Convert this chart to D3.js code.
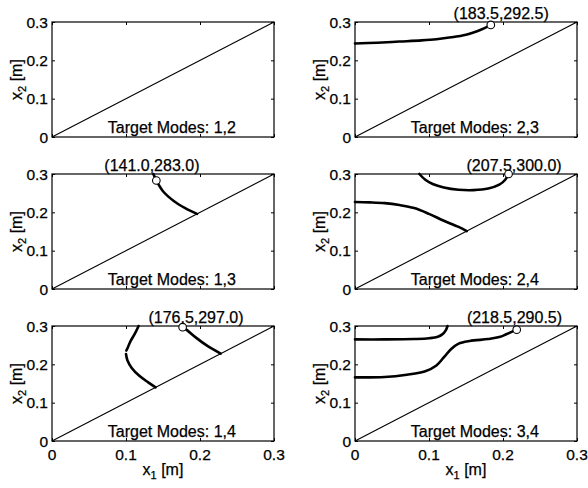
<!DOCTYPE html>
<html lang="en">
<head>
    <meta charset="UTF-8">
    <title>Target Modes</title>
    <script src="https://d3js.org/d3.v7.min.js"></script>
    <style>
        body {
            margin: 0;
            background: #fff;
            font-family: "Liberation Sans", Arial, Helvetica, sans-serif;
        }
        text {
            fill: #000;
            stroke: #000;
            stroke-width: 0.25px;
        }
    </style>
</head>
<body>
    <div id="chart"></div>

    <script>
        // Panel titles (row by row, left to right)
        const titles = ["Target Modes: 1,2", "Target Modes: 2,3", "Target Modes: 1,3",
                        "Target Modes: 2,4", "Target Modes: 1,4", "Target Modes: 3,4"];

        // Axis ticks (metres)
        const ticks = [0, 0.1, 0.2, 0.3];
        const tickLabels = ["0", "0.1", "0.2", "0.3"];

        // Curves per panel, [x1, x2] in metres
        const curves12 = [];
        const curves23 = [
            [[0, 0.244], [0.03, 0.246], [0.06, 0.249], [0.09, 0.252], [0.11, 0.255], [0.13, 0.26],
             [0.15, 0.267], [0.165, 0.276], [0.175, 0.284], [0.1835, 0.2925]]
        ];
        const curves13 = [
            [[0.137, 0.3], [0.141, 0.283], [0.15, 0.255], [0.165, 0.229], [0.18, 0.211], [0.196, 0.196]]
        ];
        const curves24 = [
            [[0.087, 0.3], [0.095, 0.285], [0.105, 0.274], [0.12, 0.265], [0.14, 0.259], [0.16, 0.258],
             [0.18, 0.262], [0.195, 0.272], [0.203, 0.285], [0.2075, 0.3]],
            [[0, 0.227], [0.02, 0.226], [0.04, 0.224], [0.06, 0.219], [0.08, 0.211], [0.1, 0.196],
             [0.12, 0.178], [0.14, 0.162], [0.151, 0.151]]
        ];
        const curves14 = [
            [[0.117, 0.3], [0.112, 0.28], [0.106, 0.26], [0.102, 0.242], [0.1005, 0.236]],
            [[0.1, 0.227], [0.102, 0.21], [0.108, 0.19], [0.118, 0.17], [0.13, 0.153], [0.14, 0.14]],
            [[0.1765, 0.297], [0.182, 0.29], [0.195, 0.269], [0.21, 0.248], [0.228, 0.228]]
        ];
        const curves34 = [
            [[0, 0.265], [0.04, 0.265], [0.08, 0.266], [0.1, 0.268], [0.112, 0.272], [0.119, 0.28],
             [0.123, 0.29], [0.125, 0.3]],
            [[0, 0.166], [0.04, 0.167], [0.07, 0.173], [0.095, 0.182], [0.11, 0.197], [0.12, 0.218],
             [0.13, 0.24], [0.14, 0.254], [0.155, 0.261], [0.18, 0.266], [0.195, 0.271], [0.205, 0.279],
             [0.2185, 0.2905]]
        ];
        const curves = [curves12, curves23, curves13, curves24, curves14, curves34];

        // Marked points (mm) and their labels
        const markers = [null, [183.5, 292.5], [141.0, 283.0], [207.5, 300.0], [176.5, 297.0], [218.5, 290.5]];
        const markerLabels = [null, "(183.5,292.5)", "(141.0,283.0)", "(207.5,300.0)", "(176,5,297.0)", "(218.5,290.5)"];
        const markerLabelX = [null, 0.1975, 0.135, 0.215, 0.1946, 0.2155];

        // Layout
        const W = 588, H = 488;
        const colX = [52, 355];
        const rowY = [22, 174, 326];
        const pw = 222, ph = 115;

        const svg = d3.select("#chart")
            .append("svg")
            .attr("width", W)
            .attr("height", H);

        svg.append("rect").attr("width", W).attr("height", H).attr("fill", "#fff");

        titles.forEach((title, i) => {
            const row = Math.floor(i / 2), col = i % 2;
            const g = svg.append("g")
                .attr("transform", `translate(${colX[col]},${rowY[row]})`);

            const x = d3.scaleLinear().domain([0, 0.3]).range([0, pw]);
            const y = d3.scaleLinear().domain([0, 0.3]).range([ph, 0]);

            const line = d3.line()
                .x(d => x(d[0]))
                .y(d => y(d[1]));

            // diagonal x1 = x2
            g.append("path")
                .datum([[0, 0], [0.3, 0.3]])
                .attr("d", line)
                .attr("fill", "none")
                .attr("stroke", "#000")
                .attr("stroke-width", 1.1);

            // solution curves
            g.selectAll(".curve")
                .data(curves[i])
                .enter()
                .append("path")
                .attr("class", "curve")
                .attr("d", line.curve(d3.curveCatmullRom))
                .attr("fill", "none")
                .attr("stroke", "#000")
                .attr("stroke-width", 2.6)
                .attr("stroke-linecap", "round");

            // inward ticks on all four sides
            const tl = 3;
            g.append("g")
                .call(d3.axisLeft(y).tickValues(ticks).tickSize(-tl).tickFormat(""))
                .call(a => a.select(".domain").remove());
            g.append("g")
                .attr("transform", `translate(${pw},0)`)
                .call(d3.axisRight(y).tickValues(ticks).tickSize(-tl).tickFormat(""))
                .call(a => a.select(".domain").remove());
            g.append("g")
                .attr("transform", `translate(0,${ph})`)
                .call(d3.axisBottom(x).tickValues(ticks).tickSize(-tl).tickFormat(""))
                .call(a => a.select(".domain").remove());
            g.append("g")
                .call(d3.axisTop(x).tickValues(ticks).tickSize(-tl).tickFormat(""))
                .call(a => a.select(".domain").remove());

            // box
            g.append("rect")
                .attr("width", pw)
                .attr("height", ph)
                .attr("fill", "none")
                .attr("stroke", "#000")
                .attr("stroke-width", 1.2);

            // y tick labels
            g.selectAll(".ylab")
                .data(ticks)
                .enter()
                .append("text")
                .attr("x", -4)
                .attr("y", d => y(d))
                .attr("dy", "0.36em")
                .attr("text-anchor", "end")
                .style("font-size", "15.5px")
                .text((d, k) => tickLabels[k]);

            // y axis label
            const yl = g.append("text")
                .attr("transform", `translate(-30,${ph / 2}) rotate(-90)`)
                .attr("text-anchor", "middle")
                .style("font-size", "16px");
            yl.append("tspan").text("x");
            yl.append("tspan").attr("dy", 4).style("font-size", "11px").text("2");
            yl.append("tspan").attr("dy", -4).text(" [m]");

            // x tick labels and label on bottom row only
            if (row === 2) {
                g.selectAll(".xlab")
                    .data(ticks)
                    .enter()
                    .append("text")
                    .attr("x", d => x(d))
                    .attr("y", ph + 19)
                    .attr("text-anchor", "middle")
                    .style("font-size", "15.5px")
                    .text((d, k) => tickLabels[k]);

                const xl = g.append("text")
                    .attr("x", pw / 2)
                    .attr("y", ph + 34)
                    .attr("text-anchor", "middle")
                    .style("font-size", "16px");
                xl.append("tspan").text("x");
                xl.append("tspan").attr("dy", 4).style("font-size", "11px").text("1");
                xl.append("tspan").attr("dy", -4).text(" [m]");
            }

            // panel title
            g.append("text")
                .attr("x", x(0.162))
                .attr("y", ph - 4)
                .attr("text-anchor", "middle")
                .style("font-size", "16px")
                .text(title);

            // marked point
            if (markers[i]) {
                const m = markers[i];
                g.append("text")
                    .attr("x", x(markerLabelX[i]))
                    .attr("y", -3)
                    .attr("text-anchor", "middle")
                    .style("font-size", "16px")
                    .text(markerLabels[i]);
                g.append("circle")
                    .attr("cx", x(m[0] / 1000))
                    .attr("cy", y(m[1] / 1000))
                    .attr("r", 3.8)
                    .attr("fill", "#fff")
                    .attr("stroke", "#000")
                    .attr("stroke-width", 1.1);
            }
        });
    </script>
</body>
</html>
